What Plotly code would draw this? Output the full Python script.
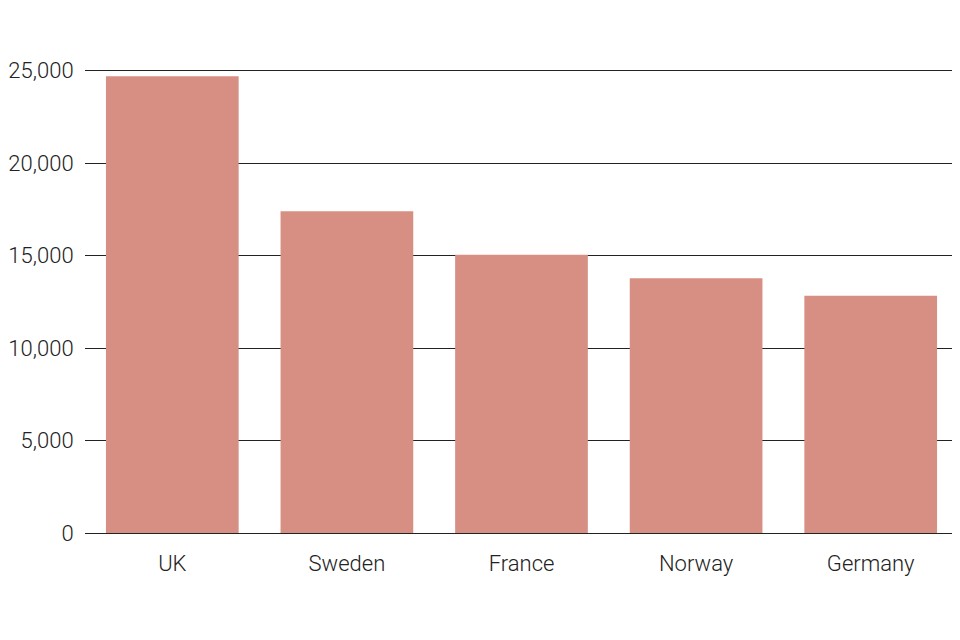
import plotly.graph_objects as go

countries = ["UK", "Sweden", "France", "Norway", "Germany"]
values = [24700, 17400, 15050, 13780, 12830]
y_ticks = [0, 5000, 10000, 15000, 20000, 25000]
y_tick_labels = ["0", "5,000", "10,000", "15,000", "20,000", "25,000"]

fig = go.Figure(go.Bar(
    x=countries, y=values,
    marker=dict(color="#D78F83", line=dict(width=0)),
    hoverinfo="x+y",
))

font = dict(family="Roboto", size=22, color="#222222", weight=300)

fig.update_layout(
    width=952, height=624,
    margin=dict(l=77, r=2, t=59, b=99, autoexpand=False),
    paper_bgcolor="white", plot_bgcolor="white",
    bargap=0.24,
    showlegend=False,
    font=font,
)
fig.update_yaxes(
    range=[0, 25200], tickvals=y_ticks, ticktext=y_tick_labels,
    showgrid=True, gridcolor="#222222", gridwidth=1,
    zeroline=True, zerolinecolor="#222222", zerolinewidth=1,
    ticks="outside", ticklen=6, tickcolor="rgba(0,0,0,0)",
    tickfont=font, showline=False, automargin=False,
)
fig.update_xaxes(
    showgrid=False, showline=False,
    ticks="outside", ticklen=11, tickcolor="rgba(0,0,0,0)",
    tickfont=font, automargin=False,
)
fig.layout.yaxis.layer = "below traces"

fig.write_html("out.html")
